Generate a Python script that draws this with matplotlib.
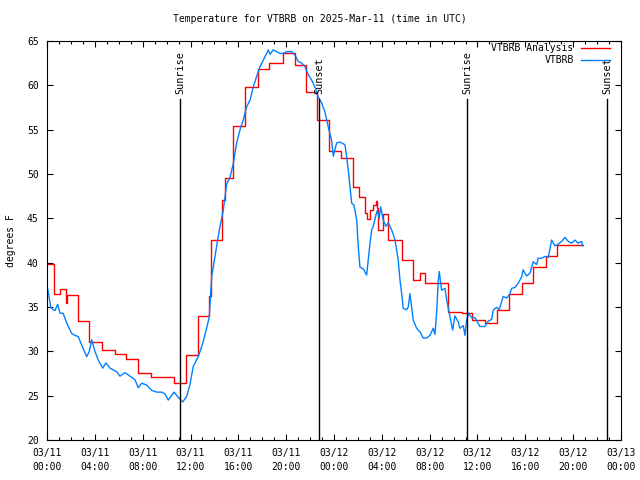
import matplotlib
matplotlib.use("Agg")
import matplotlib.pyplot as plt
from matplotlib.ticker import MultipleLocator

# hours since 2025-03-11 00:00 UTC
obs_hours = [0.0, 0.31, 0.5, 0.67, 0.89, 1.09, 1.34, 1.65, 2.07, 2.34, 2.62, 2.9, 3.32, 3.54, 3.74,
             4.01, 4.29, 4.66, 4.93, 5.27, 5.83, 6.1, 6.52, 6.94, 7.36, 7.63, 7.92, 8.34, 8.75, 9.17,
             9.59, 9.87, 10.14, 10.62, 10.98, 11.35, 11.68, 11.96, 12.23, 12.65, 13.02, 13.35, 13.57,
             13.77, 14.13, 14.41, 14.74, 15.03, 15.3, 15.58, 15.86, 16.14, 16.41, 16.7, 16.97, 17.25,
             17.53, 17.81, 18.09, 18.37, 18.5, 18.65, 18.92, 19.2, 19.48, 19.76, 20.04, 20.46, 20.74,
             21.01, 21.3, 21.57, 21.85, 22.13, 22.41, 22.68, 22.97, 23.24, 23.52, 23.8, 23.94, 24.22,
             24.5, 24.92, 25.06, 25.19, 25.33, 25.48, 25.67, 25.9, 26.03, 26.17, 26.45, 26.73, 26.86,
             27.01, 27.15, 27.28, 27.51, 27.62, 27.78, 27.9, 28.12, 28.34, 28.54, 28.82, 29.1, 29.37,
             29.52, 29.66, 29.79, 30.08, 30.21, 30.35, 30.49, 30.63, 30.91, 31.19, 31.46, 31.75, 32.02,
             32.3, 32.44, 32.58, 32.72, 32.8, 33.0, 33.28, 33.42, 33.7, 33.92, 34.11, 34.39, 34.53,
             34.81, 34.95, 35.09, 35.23, 35.51, 35.79, 36.2, 36.62, 36.9, 37.18, 37.32, 37.6, 37.82,
             38.15, 38.44, 38.71, 38.85, 39.13, 39.41, 39.69, 39.82, 40.11, 40.38, 40.66, 40.94, 41.08,
             41.36, 41.64, 41.92, 42.2, 42.47, 42.75, 43.04, 43.31, 43.59, 43.87, 44.15, 44.42, 44.71,
             44.79]
obs_temps = [37.5, 35.0, 34.7, 34.6, 35.3, 34.3, 34.3, 33.2, 32.0, 31.8, 31.65, 30.7, 29.4, 30.0, 31.3,
             30.0, 29.0, 28.1, 28.7, 28.1, 27.7, 27.2, 27.6, 27.2, 26.8, 25.9, 26.4, 26.2, 25.6, 25.4,
             25.4, 25.2, 24.5, 25.4, 24.8, 24.3, 24.9, 26.3, 28.3, 29.4, 30.9, 32.6, 33.9,
             38.4, 41.4, 43.7, 45.9, 48.9, 49.6, 51.2, 53.5, 55.0, 56.1, 57.6, 58.3, 59.8,
             61.0, 62.1, 62.85, 63.6, 64.0, 63.5, 64.0, 63.8, 63.6, 63.6, 63.8, 63.8, 63.4,
             62.7, 62.5, 62.1, 61.2, 60.6, 59.8, 58.7, 58.0, 57.0, 55.3, 53.8, 52.0, 53.5,
             53.6, 53.3, 51.95, 50.45, 48.6, 46.7, 46.5, 44.8, 41.8, 39.5, 39.3, 38.6, 40.3,
             42.2, 43.7, 44.1, 45.4, 45.9, 45.0, 46.3, 44.8, 44.1, 44.5, 43.7, 42.6, 40.3,
             38.0, 36.5, 34.85, 34.7, 35.0, 36.5, 35.0, 33.5, 32.6, 32.2, 31.5, 31.5, 31.8,
             32.6, 31.9, 34.3, 38.0, 39.0, 36.9, 37.1, 35.8, 33.9, 32.4, 34.0, 33.3, 32.6,
             32.9, 31.8, 33.5, 34.3, 33.8, 33.8, 32.8, 32.8, 33.4, 33.6, 34.66, 34.97, 34.7,
             36.2, 36.0, 36.5, 37.1, 37.2, 37.7, 38.4, 39.2, 38.5, 38.8, 40.1, 39.8, 40.5,
             40.5, 40.7, 40.6, 42.55, 41.9, 42.1, 42.4, 42.85, 42.4, 42.2, 42.55, 42.2, 42.4,
             41.9]

ana_hours = [0.0, 0.6, 1.1, 1.56, 1.7, 2.56, 3.5, 4.57, 5.7, 6.6, 7.58, 8.7, 10.6, 11.6, 12.6, 13.55,
             13.7, 14.6, 14.9, 15.58, 16.55, 17.67, 18.6, 19.7, 20.7, 21.66, 22.55, 23.6, 24.6, 25.55,
             26.1, 26.6, 26.73, 27.0, 27.28, 27.51, 27.62, 27.7, 28.07, 28.54, 29.66, 30.63, 31.19,
             31.6, 33.55, 34.67, 35.56, 36.62, 37.6, 38.63, 39.69, 40.66, 41.72, 42.67, 44.79]
ana_temps = [39.8, 36.5, 37.0, 35.4, 36.4, 33.4, 31.0, 30.15, 29.75, 29.1, 27.6, 27.15, 26.4, 29.55, 34.0,
             36.2, 42.5, 47.1, 49.5, 55.4, 59.76, 61.8, 62.5, 63.6, 62.3, 59.2, 56.1, 52.6, 51.8, 48.5,
             47.4, 45.6, 44.9, 45.9, 46.5, 47.0, 46.2, 43.7, 45.5, 42.6, 40.3, 38.0, 38.8,
             37.7, 34.4, 34.3, 33.5, 33.2, 34.66, 36.5, 37.7, 39.5, 40.7, 42.0, 42.0]

sun_labels = ["Sunrise", "Sunset", "Sunrise", "Sunset"]
sun_hours = [11.12, 22.75, 35.15, 46.85]

tick_hours = list(range(0, 49, 4))
tick_labels = ["03/11\n00:00", "03/11\n04:00", "03/11\n08:00", "03/11\n12:00", "03/11\n16:00",
               "03/11\n20:00", "03/12\n00:00", "03/12\n04:00", "03/12\n08:00", "03/12\n12:00",
               "03/12\n16:00", "03/12\n20:00", "03/13\n00:00"]

plt.rcParams["font.family"] = ["DejaVu Sans Mono"]
plt.rcParams["font.size"] = 7

fig = plt.figure(figsize=(6.4, 4.8), dpi=100)
ax = fig.add_axes([47 / 640, 40 / 480, 574 / 640, 399 / 480])

ax.plot(ana_hours, ana_temps, color="#ff0000", lw=1.0, drawstyle="steps-post", label="VTBRB Analysis")
ax.plot(obs_hours, obs_temps, color="#0080ff", lw=1.0, label="VTBRB")

ymin, ymax = 20, 65
line_top = 58.46
for lab, h in zip(sun_labels, sun_hours):
    ax.axvline(h, ymin=0, ymax=(line_top - ymin) / (ymax - ymin), color="black", lw=1.0)
    ax.text(h, line_top + 0.6, lab, rotation=90, ha="center", va="bottom", fontsize=7.3)

ax.set_xlim(0, 48)
ax.set_ylim(ymin, ymax)
ax.set_xticks(tick_hours)
ax.set_xticklabels(tick_labels, linespacing=1.45)
ax.xaxis.set_minor_locator(MultipleLocator(1))
ax.set_yticks(range(20, 66, 5))
ax.tick_params(which="both", direction="in", top=True, right=True, pad=6, labelsize=7)
ax.tick_params(which="major", length=4, width=0.8)
ax.tick_params(which="minor", length=2, width=0.8)
for s in ax.spines.values():
    s.set_linewidth(0.8)

ax.set_ylabel("degrees F", fontsize=7, labelpad=8)
fig.text(0.5, 1 - 19 / 480, "Temperature for VTBRB on 2025-Mar-11 (time in UTC)",
         ha="center", va="center", fontsize=7)

ax.legend(loc="upper right", bbox_to_anchor=(0.993, 1.012), frameon=False, markerfirst=False,
          handlelength=3.0, fontsize=7, borderpad=0.2, labelspacing=0.2, handletextpad=0.75)

fig.savefig("out.png", dpi=100)
